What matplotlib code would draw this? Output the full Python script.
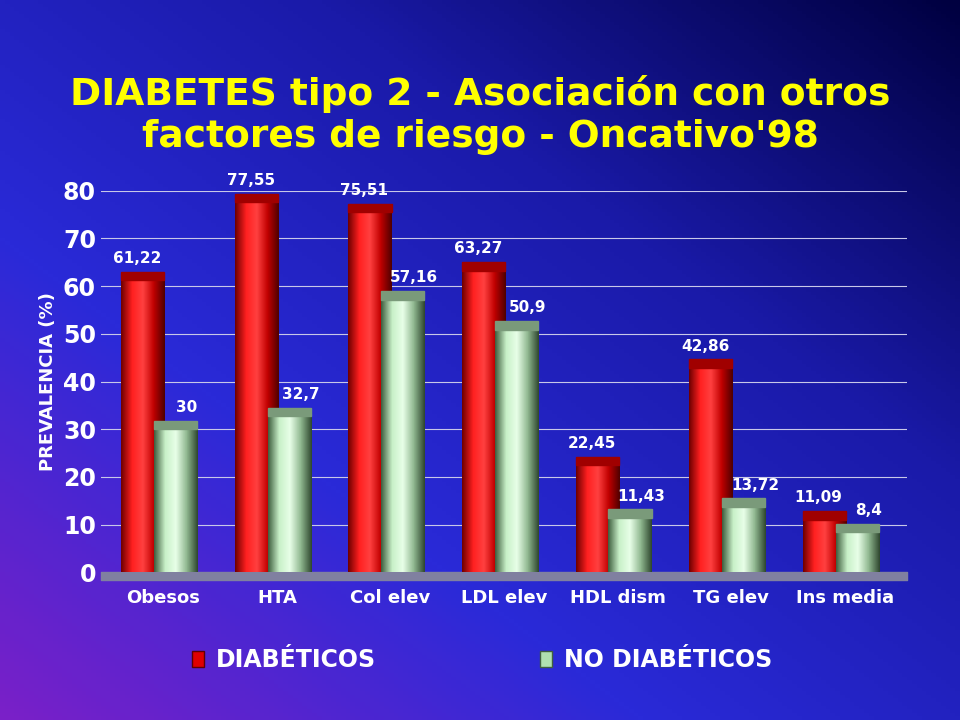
import numpy as np
import matplotlib
matplotlib.use("Agg")
import matplotlib.pyplot as plt
from matplotlib.colors import LinearSegmentedColormap

categories = ["Obesos", "HTA", "Col elev", "LDL elev", "HDL dism", "TG elev", "Ins media"]
diabeticos = [61.22, 77.55, 75.51, 63.27, 22.45, 42.86, 11.09]
no_diabeticos = [30, 32.7, 57.16, 50.9, 11.43, 13.72, 8.4]
labels_d = ["61,22", "77,55", "75,51", "63,27", "22,45", "42,86", "11,09"]
labels_n = ["30", "32,7", "57,16", "50,9", "11,43", "13,72", "8,4"]
yticks = [0, 10, 20, 30, 40, 50, 60, 70, 80]

fig = plt.figure(figsize=(9.6, 7.2), dpi=100)
bg = fig.add_axes([0, 0, 1, 1], zorder=-10)
bg.axis("off")
yy, xx = np.mgrid[0:1:200j, 0:1:200j]
t = np.clip(((1 - xx) + yy) / 2, 0, 1)
cm = LinearSegmentedColormap.from_list("bg", ["#000040", "#1a1aa8", "#2a2ad8", "#7a20c8"])
bg.imshow(cm(t), aspect="auto", extent=[0, 1, 0, 1], origin="upper")
bg.set_xlim(0, 1); bg.set_ylim(0, 1)

fig.text(0.5, 0.84, "DIABETES tipo 2 - Asociación con otros\nfactores de riesgo - Oncativo'98",
         ha="center", va="center", color="#ffff00", fontsize=27, fontweight="bold",
         linespacing=1.2)

ax = fig.add_axes([0.105, 0.205, 0.84, 0.53])
ax.set_facecolor("none")
for s in ax.spines.values():
    s.set_visible(False)
ax.set_ylim(0, 80)
ax.set_xlim(-0.55, len(categories) - 0.45)
ax.set_yticks(yticks)
ax.tick_params(colors="white", length=0, labelsize=17)
for lb in ax.get_yticklabels():
    lb.set_fontweight("bold")
ax.set_xticks(range(len(categories)))
ax.set_xticklabels(categories, fontsize=13, fontweight="bold", color="white")
ax.tick_params(axis="x", pad=12)
ax.set_ylabel("PREVALENCIA (%)", color="white", fontsize=13, fontweight="bold")
for v in yticks[1:]:
    ax.axhline(v, color="#c8c8e8", lw=0.8, zorder=0)
ax.fill_between(ax.get_xlim(), -1.5, 0, color="#8080a0", zorder=0, clip_on=False)

red_cm = LinearSegmentedColormap.from_list("r", ["#700000", "#ff2020", "#ff4040", "#c00000", "#500000"])
grn_cm = LinearSegmentedColormap.from_list("g", ["#406040", "#c8f0c8", "#e8ffe8", "#90b890", "#304830"])
w = 0.38
grad = np.linspace(0, 1, 64).reshape(1, -1)

def cyl(x0, h, cmap, top):
    ax.imshow(cmap(grad), extent=[x0, x0 + w, 0, h], aspect="auto", zorder=2)
    ax.add_patch(plt.Rectangle((x0, h), w, 1.8, color=top, zorder=3))

for i, (d, n) in enumerate(zip(diabeticos, no_diabeticos)):
    xd = i - 0.37
    xn = i - 0.08
    cyl(xd, d, red_cm, "#a00000")
    cyl(xn, n, grn_cm, "#7a9a7a")
    ax.text(xd + w / 2 - 0.05, d + 3, labels_d[i], color="white", fontsize=11,
            fontweight="bold", ha="center", va="bottom")
    ax.text(xn + w / 2 + 0.1, n + 3, labels_n[i], color="white", fontsize=11,
            fontweight="bold", ha="center", va="bottom")
ax.set_ylim(0, 80)
ax.set_xlim(-0.55, len(categories) - 0.45)

fig.patches.append(plt.Rectangle((0.2, 0.074), 0.012, 0.022, transform=fig.transFigure,
                                 facecolor="#e00000", edgecolor="#600000"))
fig.text(0.225, 0.084, "DIABÉTICOS", color="white", fontsize=17, fontweight="bold", va="center")
fig.patches.append(plt.Rectangle((0.563, 0.074), 0.012, 0.022, transform=fig.transFigure,
                                 facecolor="#b0e0b0", edgecolor="#406040"))
fig.text(0.588, 0.084, "NO DIABÉTICOS", color="white", fontsize=17, fontweight="bold", va="center")

fig.savefig("out.png", dpi=100)
